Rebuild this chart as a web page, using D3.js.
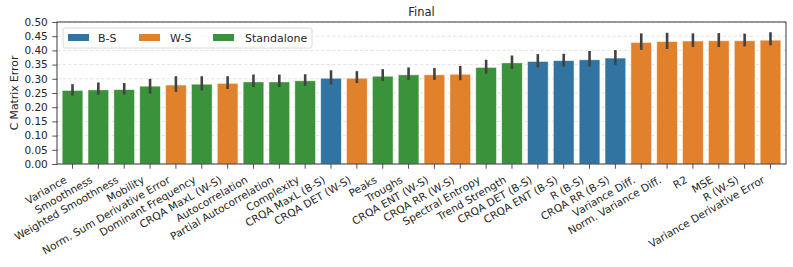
<!DOCTYPE html>
<html>
<head>
<meta charset="utf-8">
<script src="https://cdn.jsdelivr.net/npm/d3@7"></script>
<style>
    body { margin: 0; background: #fff; }
    svg { display: block; font-family: "DejaVu Sans", sans-serif; }
</style>
</head>
<body>
<svg width="793" height="267"></svg>
<script>
const categories = [
    "Variance", "Smoothness", "Weighted Smoothness", "Mobility", "Norm. Sum Derivative Error",
    "Dominant Frequency", "CRQA MaxL (W-S)", "Autocorrelation", "Partial Autocorrelation", "Complexity",
    "CRQA MaxL (B-S)", "CRQA DET (W-S)", "Peaks", "Troughs", "CRQA ENT (W-S)",
    "CRQA RR (W-S)", "Spectral Entropy", "Trend Strength", "CRQA DET (B-S)", "CRQA ENT (B-S)",
    "R (B-S)", "CRQA RR (B-S)", "Variance Diff.", "Norm. Variance Diff.", "R2",
    "MSE", "R (W-S)", "Variance Derivative Error"
];
const groups = [
    "Standalone", "Standalone", "Standalone", "Standalone", "W-S",
    "Standalone", "W-S", "Standalone", "Standalone", "Standalone",
    "B-S", "W-S", "Standalone", "Standalone", "W-S",
    "W-S", "Standalone", "Standalone", "B-S", "B-S",
    "B-S", "B-S", "W-S", "W-S", "W-S",
    "W-S", "W-S", "W-S"
];
const means = [
    0.259, 0.261, 0.262, 0.274, 0.278,
    0.281, 0.284, 0.289, 0.289, 0.293,
    0.302, 0.302, 0.309, 0.314, 0.314,
    0.316, 0.340, 0.356, 0.361, 0.364,
    0.367, 0.373, 0.428, 0.431, 0.433,
    0.434, 0.434, 0.436
];
const errLow = [
    0.241, 0.244, 0.245, 0.248, 0.254,
    0.259, 0.264, 0.271, 0.271, 0.275,
    0.280, 0.285, 0.292, 0.296, 0.296,
    0.295, 0.318, 0.335, 0.340, 0.343,
    0.343, 0.349, 0.402, 0.405, 0.412,
    0.412, 0.414, 0.418
];
const errHigh = [
    0.281, 0.287, 0.285, 0.300, 0.309,
    0.309, 0.309, 0.315, 0.315, 0.316,
    0.330, 0.327, 0.334, 0.340, 0.338,
    0.345, 0.367, 0.382, 0.387, 0.388,
    0.398, 0.401, 0.460, 0.462, 0.460,
    0.461, 0.459, 0.464
];
const yTicks = d3.range(0, 0.501, 0.05);
const legendGroups = ["B-S", "W-S", "Standalone"];

const colors = { "B-S": "#3274a1", "W-S": "#e1812c", "Standalone": "#3a923a" };

const margin = { top: 22, right: 7, bottom: 103, left: 57 };
const width = 793, height = 267;

const svg = d3.select("svg");

const x = d3.scaleBand()
    .domain(categories)
    .range([margin.left, width - margin.right])
    .padding(0.2);

const y = d3.scaleLinear()
    .domain([0, 0.5])
    .range([height - margin.bottom, margin.top]);

// grid
svg.append("g")
    .selectAll("line")
    .data(yTicks)
    .enter().append("line")
    .attr("x1", margin.left)
    .attr("x2", width - margin.right)
    .attr("y1", d => y(d))
    .attr("y2", d => y(d))
    .attr("stroke", "#dcdcdc")
    .attr("stroke-width", 0.8)
    .attr("stroke-dasharray", "3.5,2");

const data = categories.map((c, i) => ({ name: c, group: groups[i], mean: means[i], lo: errLow[i], hi: errHigh[i] }));

svg.append("g")
    .selectAll("rect")
    .data(data)
    .enter().append("rect")
    .attr("x", d => x(d.name))
    .attr("y", d => y(d.mean))
    .attr("width", x.bandwidth())
    .attr("height", d => y(0) - y(d.mean))
    .attr("fill", d => colors[d.group])
    .attr("stroke", "#ffffff")
    .attr("stroke-opacity", 0.6)
    .attr("stroke-width", 0.8);

svg.append("g")
    .selectAll("line")
    .data(data)
    .enter().append("line")
    .attr("x1", d => x(d.name) + x.bandwidth() / 2)
    .attr("x2", d => x(d.name) + x.bandwidth() / 2)
    .attr("y1", d => y(d.lo))
    .attr("y2", d => y(d.hi))
    .attr("stroke", "#424242")
    .attr("stroke-width", 2.6);

// axes
const yAxis = svg.append("g")
    .attr("transform", `translate(${margin.left},0)`)
    .call(d3.axisLeft(y).tickValues(yTicks).tickFormat(d3.format(".2f")).tickSize(4.7).tickPadding(4.5));

const xAxis = svg.append("g")
    .attr("transform", `translate(0,${height - margin.bottom})`)
    .call(d3.axisBottom(x).tickSize(4.7).tickPadding(2));

[yAxis, xAxis].forEach(a => {
    a.select(".domain").remove();
    a.selectAll("line").attr("stroke", "#262626").attr("stroke-width", 0.8);
    a.selectAll("text").attr("fill", "#262626").style("font-size", "10.5px").style("font-family", "DejaVu Sans");
});

// rotated labels: right end of the text box sits under the tick
xAxis.selectAll("text")
    .attr("text-anchor", "end")
    .attr("dy", null)
    .attr("y", 0)
    .attr("transform", "translate(-5,18) rotate(-30)");

// frame
svg.append("rect")
    .attr("x", margin.left)
    .attr("y", margin.top)
    .attr("width", width - margin.left - margin.right)
    .attr("height", height - margin.top - margin.bottom)
    .attr("fill", "none")
    .attr("stroke", "#262626")
    .attr("stroke-width", 0.9);

svg.append("text")
    .attr("x", (margin.left + width - margin.right) / 2)
    .attr("y", 16)
    .attr("text-anchor", "middle")
    .attr("fill", "#262626")
    .style("font-size", "11.5px")
    .text("Final");

svg.append("text")
    .attr("transform", `translate(17.5,${(margin.top + height - margin.bottom) / 2}) rotate(-90)`)
    .attr("text-anchor", "middle")
    .attr("fill", "#262626")
    .style("font-size", "10.8px")
    .text("C Matrix Error");

// legend
const legend = svg.append("g").attr("transform", "translate(63,28)");
legend.append("rect")
    .attr("width", 249)
    .attr("height", 20)
    .attr("rx", 2)
    .attr("fill", "#ffffff")
    .attr("fill-opacity", 0.8)
    .attr("stroke", "#d0d0d0")
    .attr("stroke-width", 0.8);

const legendX = [5, 76, 150];
const legendTextX = [35, 107, 182];
legendGroups.forEach((g, i) => {
    legend.append("rect")
        .attr("x", legendX[i])
        .attr("y", 6)
        .attr("width", 21)
        .attr("height", 7)
        .attr("fill", colors[g]);
    legend.append("text")
        .attr("x", legendTextX[i])
        .attr("y", 14)
        .attr("fill", "#262626")
        .style("font-size", "11px")
        .text(g);
});
</script>
</body>
</html>
